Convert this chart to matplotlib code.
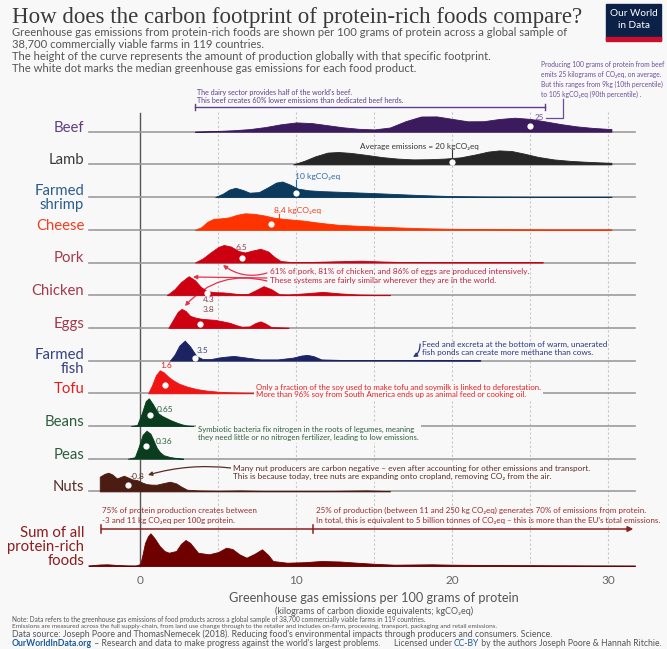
import numpy as np
import matplotlib
matplotlib.use("Agg")
import matplotlib.pyplot as plt
from matplotlib.transforms import Affine2D
from matplotlib.patches import Rectangle

W, H = 667, 649
X0, XS = 140.3, 15.6      # pixel of 0 kgCO2eq, pixels per kgCO2eq
BG = "#f8f8f8"
SANS = ["Lato", "DejaVu Sans"]

# ---- data (kgCO2eq per 100 g protein, relative production height) ----
foods = ["Beef", "Lamb", "Farmed\nshrimp", "Cheese", "Pork", "Chicken", "Eggs",
         "Farmed\nfish", "Tofu", "Beans", "Peas", "Nuts"]
medians = [25, 20, 10, 8.4, 6.5, 4.3, 3.8, 3.5, 1.6, 0.65, 0.36, -0.8]

beef_x = [3.5, 5, 6, 7, 8, 9, 10, 11, 12, 13, 14, 15, 16, 17, 18, 19, 20, 21, 22, 23, 24, 25, 26, 27, 28, 29, 30, 30.2]
beef_h = [0, 0.8, 1.5, 2.6, 4.6, 7.4, 9.3, 8.6, 6.5, 4.4, 2.9, 2.3, 4.2, 10.5, 15.2, 15.3, 12.8, 10.4, 10.5, 12.7, 14, 12.8, 10.2, 7.5, 5.3, 3.8, 2.8, 2.7]

lamb_x = [9.8, 10.5, 11.2, 12, 12.7, 13.5, 14.5, 15.5, 16.5, 17.5, 18.5, 19.5, 20.5, 21.5, 22.3, 23, 23.8, 24.6, 25.5, 26.5, 27.5, 28.5, 29.5, 30.2]
lamb_h = [0, 3.5, 8, 11.8, 12.4, 11.5, 9.5, 7.3, 5.8, 5, 5.2, 5.8, 7, 10, 12.8, 14, 13.4, 10.8, 7.5, 5, 3.6, 2.7, 2, 1.6]

shrimp_x = [4.8, 5.3, 5.7, 6.1, 6.6, 7.0, 7.6, 8.2, 8.7, 9.1, 9.6, 10.1, 10.8, 11.6, 13, 15, 16.5, 18, 20, 22, 25, 30.2]
shrimp_h = [0, 3.5, 7.5, 9.3, 7, 4.4, 5, 10, 14.5, 15.6, 12.5, 8.5, 6.8, 6.0, 5.2, 4, 3, 2, 1, 0.6, 0.4, 0.4]

cheese_x = [3.5, 3.9, 4.3, 4.7, 5.2, 5.7, 6.2, 6.7, 7.3, 8.0, 8.6, 9.5, 10.4, 11.5, 12.7, 14, 15, 16.5, 18, 20, 23, 26, 30.2]
cheese_h = [0, 2.5, 8, 11, 11.5, 12.5, 15, 16.5, 16, 14.2, 12, 10.5, 9.3, 7, 5, 4, 3.3, 2.4, 1.6, 1, 0.6, 0.4, 0.4]

pork_x = [3.5, 4.0, 4.5, 5.0, 5.35, 5.8, 6.3, 6.7, 7.2, 7.7, 8.2, 8.6, 9.0, 9.6, 11, 12.5, 14.2, 15.5, 17, 20, 23, 25.8]
pork_h = [0, 4, 10, 15.5, 17.5, 16, 11.5, 10, 12, 13.7, 11, 5.5, 1.5, 0.6, 0.6, 1.2, 1.8, 1, 0.4, 0.3, 0.3, 0.3]

chicken_x = [1.7, 2.2, 2.6, 3.1, 3.5, 3.9, 4.3, 4.8, 5.3, 5.8, 6.4, 6.9, 7.4, 7.9, 8.4, 8.9, 9.5, 10.5, 11.7, 12.8, 14, 15, 16]
chicken_h = [0, 6, 13, 19, 15, 8, 4, 3, 2.8, 2, 1, 1.2, 5, 9, 6, 1, 0.7, 1.8, 3.3, 1.8, 0.6, 0.3, 0.3]

eggs_x = [1.8, 2.1, 2.4, 2.65, 2.9, 3.2, 3.6, 4.0, 4.4, 4.8, 5.3, 5.75, 6.1, 6.5, 7.0, 7.4, 7.7, 8.0, 8.4, 9.5]
eggs_h = [0, 8, 16, 19, 17, 12, 10, 9, 8.5, 8, 6.5, 5, 3, 1.2, 1.5, 5, 6.5, 4.5, 0.8, 0.3]

fish_x = [1.9, 2.2, 2.5, 2.85, 3.2, 3.6, 4.0, 4.5, 5.2, 6.0, 6.8, 7.7, 8.8, 9.8, 10.3, 10.7, 11.1, 11.6, 13, 16, 19, 21.8]
fish_h = [0, 6, 15, 20, 14, 4.5, 1.5, 1.5, 3.5, 4.7, 3, 1.2, 1.2, 3, 5, 5.7, 4.5, 1.2, 0.6, 0.5, 0.4, 0.3]

tofu_x = [0.5, 0.75, 1.0, 1.25, 1.5, 1.8, 2.1, 2.5, 3.0, 3.6, 4.25, 5.0, 5.75, 6.9, 9, 12]
tofu_h = [0, 8, 18, 23, 21, 16.5, 13, 9.5, 6.7, 4.3, 2.7, 1.6, 1, 0.5, 0.3, 0.2]

beans_x = [-0.6, -0.2, 0.1, 0.35, 0.55, 0.8, 1.15, 1.4, 1.7, 2.0, 2.35, 2.7, 3.0, 3.4]
beans_h = [0, 1, 13, 25, 27.7, 22, 12.7, 10, 7.7, 5.5, 3.3, 1.5, 0.5, 0]

peas_x = [-0.8, -0.35, -0.1, 0.15, 0.4, 0.65, 0.85, 1.05, 1.25, 1.5, 1.9, 2.3, 2.75]
peas_h = [0, 1.5, 12, 24, 28, 25, 18.3, 11, 6.7, 3.5, 1.7, 0.7, 0]

nuts_x = [-2.6, -2.3, -2.05, -1.8, -1.5, -1.25, -1.05, -0.8, -0.5, -0.2, 0.1, 0.4, 0.7, 1.05, 1.4, 1.9, 2.3, 2.6, 3.0, 3.7, 5, 6.4, 8, 12, 14.5, 16]
nuts_h = [14.7, 17.5, 18.7, 17, 13, 14.5, 15.7, 14, 12, 11.3, 9, 7.3, 6.8, 6.7, 8, 9.7, 8, 5, 1.7, 1, 0.6, 1, 0.4, 0.4, 1, 0.3]

sum_x = [-3.3, -2.6, -2.1, -1.5, -0.8, -0.3, 0, 0.15, 0.3, 0.5, 0.65, 0.9, 1.24, 1.55, 1.83, 2.3, 2.6, 2.9, 3.2, 3.7, 4.4,
         5.0, 5.5, 5.9, 6.35, 6.8, 7.3, 7.8, 8.2, 8.5, 9.4, 10.5, 11.6, 12.8, 13.9, 15, 16.3, 17.5, 18.7, 20, 22.2, 25.8, 30, 31.7]
sum_h = [0.5, 1.5, 1.7, 1, 0.5, 0.4, 2, 12, 23, 30, 32.7, 28, 20, 15, 13.3, 15, 22, 26, 23, 13.3, 11.7,
         14, 18.3, 17, 11.7, 8.3, 12, 16.7, 11, 5, 3.3, 3.8, 5, 4.5, 3.3, 2.2, 1.3, 1.5, 1.7, 1.3, 1, 0.7, 0.4, 0.3]

curves_x = [beef_x, lamb_x, shrimp_x, cheese_x, pork_x, chicken_x, eggs_x, fish_x, tofu_x, beans_x, peas_x, nuts_x]
curves_h = [beef_h, lamb_h, shrimp_h, cheese_h, pork_h, chicken_h, eggs_h, fish_h, tofu_h, beans_h, peas_h, nuts_h]

fill_colors = ["#3b1a5e", "#262626", "#0b3a5d", "#ff3300", "#cc0011", "#cc0011", "#cc0011",
               "#1b2363", "#f01515", "#093d1e", "#093d1e", "#4b1d12"]
label_colors = ["#5d3f82", "#3a3a3a", "#2a5d8f", "#f04020", "#a3394c", "#a3394c", "#a3394c",
                "#36427d", "#e81c1c", "#2c5d3d", "#2c5d3d", "#5b3127"]
SUM_FILL, SUM_LABEL = "#6e0000", "#8f1c1c"

# ---- figure ----
fig = plt.figure(figsize=(W / 100, H / 100), dpi=100)
fig.patch.set_facecolor(BG)
ax = fig.add_axes([0, 0, 1, 1])
ax.set_xlim(-X0 / XS, (W - X0) / XS)
ax.set_ylim(H, 0)
ax.axis("off")
px = Affine2D().scale(1 / W, -1 / H).translate(0, 1) + fig.transFigure

top, step, sum_base = 131.7, 32.7, 566
bases = [top + i * step for i in range(len(foods))]

# grid
for g in range(5, 31, 5):
    ax.plot([g, g], [112, sum_base], color="#c8c8c8", lw=0.8, ls=(0, (2, 2)), zorder=1)
ax.plot([0, 0], [113, sum_base], color="#555555", lw=1.0, zorder=1.5)

LBL = 10.7
z = 2
for name, xs, hs, yb, fc, lc, med in zip(foods, curves_x, curves_h, bases,
                                          fill_colors, label_colors, medians):
    ax.plot([-3.3, 31.7], [yb, yb], color="#9c9c9c", lw=1.2, zorder=z)
    ax.fill_between(xs, yb, yb - np.array(hs), color=fc, lw=0.6, zorder=z + 0.1)
    dot_h = np.interp(med, xs, hs) * 0.45
    ax.plot(med, yb - dot_h, "o", color="white", ms=4.5, mec="none", zorder=z + 0.2)
    if "\n" in name:
        ax.text(-3.6, yb + 1, name, ha="right", va="center", color=lc, fontsize=LBL,
                family=SANS, linespacing=1.0, zorder=z)
    else:
        ax.text(-3.6, yb, name, ha="right", va="baseline", color=lc, fontsize=LBL,
                family=SANS, zorder=z)
    z += 1

# sum of all
ax.plot([-3.3, 31.7], [sum_base, sum_base], color="#9c9c9c", lw=1.2, zorder=z)
ax.fill_between(sum_x, sum_base, sum_base - np.array(sum_h), color=SUM_FILL, lw=0.6, zorder=z + 0.1)
ax.text(-3.6, sum_base + 2, "Sum of all\nprotein-rich\nfoods", ha="right", va="bottom",
        color=SUM_LABEL, fontsize=LBL, family=SANS, linespacing=1.0, multialignment="right")

# x axis
for v in [0, 10, 20, 30]:
    ax.text(v, 581, str(v), ha="center", va="center", color="#666666", fontsize=8.5, family=SANS)
ax.text(15, 598, "Greenhouse gas emissions per 100 grams of protein", ha="center", va="center",
        color="#555555", fontsize=9.2, family=SANS)
ax.text(15, 611, "(kilograms of carbon dioxide equivalents; kgCO\u2082eq)", ha="center", va="center",
        color="#555555", fontsize=6.4, family=SANS)


def t(x, y, s, color, size=5.3, family=SANS, **kw):
    return ax.text(x, y, s, transform=px, color=color, fontsize=size, family=family,
                   va="center", **kw)


# title and subtitle
t(12, 17, "How does the carbon footprint of protein-rich foods compare?", "#3a3a3a", 16.5,
  family=["Liberation Serif", "DejaVu Serif"])
sub = ["Greenhouse gas emissions from protein-rich foods are shown per 100 grams of protein across a global sample of",
       "38,700 commercially viable farms in 119 countries.",
       "The height of the curve represents the amount of production globally with that specific footprint.",
       "The white dot marks the median greenhouse gas emissions for each food product."]
for s, y in zip(sub, [33, 44, 57, 68]):
    t(12, y, s, "#555555", 8.1)

# logo
ax.add_patch(Rectangle((606, 4), 55, 36, transform=px, color="#0c2147", zorder=5))
ax.add_patch(Rectangle((606, 37), 55, 3.5, transform=px, color="#c8102e", zorder=6))
t(633.5, 14, "Our World", "white", 7.2, ha="center", zorder=7)
t(633.5, 26, "in Data", "white", 7.2, ha="center", zorder=7)

# beef annotations
purple = "#6a4c9c"
for s, y in zip(["Producing 100 grams of protein from beef",
                 "emits 25 kilograms of CO\u2082eq, on average.",
                 "But this ranges from 9kg (10th percentile)",
                 "to 105 kgCO\u2082eq (90th percentile) ."], [64, 74, 84, 94]):
    t(541, y, s, purple, 4.75)
t(197, 92, "The dairy sector provides half of the world's beef.", "#5e3e8a", 5.15)
t(197, 100.5, "This beef creates 60% lower emissions than dedicated beef herds.", "#5e3e8a", 5.15)
ax.plot([195, 545], [107, 107], transform=px, color="#5e3e8a", lw=1.0)
ax.plot([195, 195], [104, 110], transform=px, color="#5e3e8a", lw=1.0)
ax.plot([545, 545], [104, 110], transform=px, color="#5e3e8a", lw=1.0)
t(544, 117, "25", purple, 5.8, ha="right")
ax.plot([546, 563, 563], [118, 118, 99], transform=px, color=purple, lw=0.9)

# median labels
t(419, 146, "Average emissions = 20 kgCO\u2082eq", "#333333", 5.9, ha="center")
ax.plot([20, 20], [150, 157], color="#333333", lw=0.8)
ax.text(9.9, 177, "10 kgCO\u2082eq", ha="left", va="center", color="#2a6aa8", fontsize=6.1, family=SANS)
ax.plot([10, 10], [180, 188], color="#2a6aa8", lw=0.8)
ax.text(8.6, 211, "8.4 kgCO\u2082eq", ha="left", va="center", color="#f04020", fontsize=6.1, family=SANS)
ax.plot([8.9, 8.9], [214, 221], color="#f04020", lw=0.8)
for v, x, y, c in [("6.5", 6.5, 248, "#8a4050"), ("4.3", 4.4, 300, "#8a4050"), ("3.8", 4.4, 310, "#8a4050"),
                   ("3.5", 4.0, 350.5, "#36427d"), ("1.6", 1.65, 366, "#e81c1c")]:
    ax.text(x, y, v, ha="center", va="center", color=c, fontsize=6, family=SANS)
ax.text(1.05, 410, "0.65", ha="left", va="center", color="#2c5d3d", fontsize=6, family=SANS)
ax.text(1.0, 442, "0.36", ha="left", va="center", color="#2c5d3d", fontsize=6, family=SANS)
ax.text(-0.2, 476.5, "-0.8", ha="center", va="center", color="#5b3127", fontsize=6, family=SANS)

# intensive systems
red = "#c0233f"
t(270, 271, "61% of pork, 81% of chicken, and 86% of eggs are produced intensively.", red, 5.85)
t(270, 280, "These systems are fairly similar wherever they are in the world.", red, 5.85)
arrow = dict(arrowstyle="-|>", color="#e8304a", lw=0.9, mutation_scale=6, shrinkA=0, shrinkB=0)
ax.annotate("", xy=(223, 265), xytext=(267, 273), xycoords=px, textcoords=px,
            arrowprops=dict(arrow, connectionstyle="arc3,rad=-0.25"))
ax.annotate("", xy=(193, 277), xytext=(267, 278), xycoords=px, textcoords=px,
            arrowprops=dict(arrow, connectionstyle="arc3,rad=0.0"))
ax.annotate("", xy=(185, 306), xytext=(267, 281), xycoords=px, textcoords=px,
            arrowprops=dict(arrow, connectionstyle="arc3,rad=0.3"))

# fish
navy = "#2a3580"
t(422, 344, "Feed and excreta at the bottom of warm, unaerated", navy, 5.9)
t(422, 353, "fish ponds can create more methane than cows.", navy, 5.9)
ax.annotate("", xy=(413, 357), xytext=(420, 344), xycoords=px, textcoords=px,
            arrowprops=dict(arrow, color=navy, connectionstyle="arc3,rad=-0.3"))

# tofu
bbox = dict(facecolor=BG, edgecolor="none", pad=1.5)
t(256, 391, "Only a fraction of the soy used to make tofu and soymilk is linked to deforestation.\n"
  "More than 96% soy from South America ends up as animal feed or cooking oil.", "#e62020", 5.65,
  bbox=bbox, linespacing=1.15, zorder=20)

# legumes
t(198, 433, "Symbiotic bacteria fix nitrogen in the roots of legumes, meaning\n"
  "they need little or no nitrogen fertilizer, leading to low emissions.", "#2f5f3f", 5.6,
  bbox=bbox, linespacing=1.15, zorder=20)

# nuts
brown = "#5a2d22"
t(233, 472.5, "Many nut producers are carbon negative \u2013 even after accounting for other emissions and transport.\n"
  "This is because today, tree nuts are expanding onto cropland, removing CO\u2082 from the air.", brown, 5.9,
  bbox=bbox, linespacing=1.1, zorder=20)
ax.annotate("", xy=(148, 475), xytext=(231, 468), xycoords=px, textcoords=px,
            arrowprops=dict(arrow, color=brown, connectionstyle="arc3,rad=0.1"))

# sum annotations
sred = "#9b2a2a"
t(102, 510, "75% of protein production creates between", sred, 5.8)
t(102, 520, "-3 and 11 kg CO\u2082eq per 100g protein.", sred, 5.8)
t(316, 510, "25% of production (between 11 and 250 kg CO\u2082eq) generates 70% of emissions from protein.", sred, 5.8)
t(316, 520, "In total, this is equivalent to 5 billion tonnes of CO\u2082eq \u2013 this is more than the EU's total emissions.", sred, 5.8)
ax.annotate("", xy=(31.6, 529), xytext=(-2.5, 529),
            arrowprops=dict(arrowstyle="-|>", color="#8b2020", lw=1.1, mutation_scale=8, shrinkA=0, shrinkB=0))
ax.plot([-2.5, -2.5], [525, 533], color="#8b2020", lw=1.1)
ax.plot([11.1, 11.1], [525, 533], color="#8b2020", lw=1.1)

# footer
t(12, 619.5, "Note: Data refers to the greenhouse gas emissions of food products across a global sample of 38,700 "
  "commercially viable farms in 119 countries.", "#555555", 4.7)
t(12, 626.5, "Emissions are measured across the full supply-chain, from land use change through to the retailer and "
  "includes on-farm, processing, transport, packaging and retail emissions.", "#555555", 4.6)
t(12, 634, "Data source: Joseph Poore and ThomasNemecek (2018). Reducing food's environmental impacts through "
  "producers and consumers. Science.", "#555555", 6.3)

renderer = fig.canvas.get_renderer()


def chain(x, y, parts, size, ha="left"):
    objs = [t(x, y, s, c, size, fontweight=w) for s, c, w in parts]
    widths = [o.get_window_extent(renderer).width for o in objs]
    if ha == "right":
        x = x - sum(widths)
    for o, wd in zip(objs, widths):
        o.set_x(x)
        x += wd


blue = "#1a5a9a"
chain(12, 644, [("OurWorldInData.org", blue, "bold"),
                (" \u2013 Research and data to make progress against the world's largest problems.", "#555555", "normal")], 6.2)
chain(662, 644, [("Licensed under ", "#555555", "normal"), ("CC-BY", blue, "normal"),
                 (" by the authors Joseph Poore & Hannah Ritchie.", "#555555", "normal")], 6.2, ha="right")

fig.savefig("out.png", dpi=100, facecolor=BG)
